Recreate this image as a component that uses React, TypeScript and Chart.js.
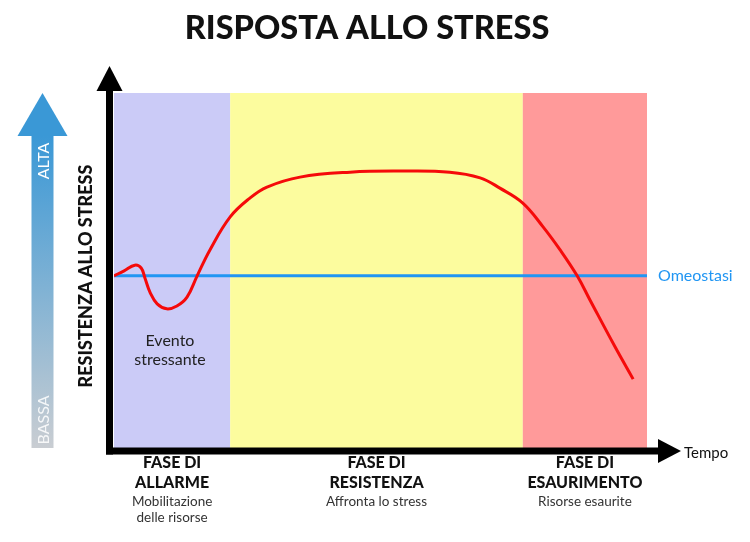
import React, { useEffect, useRef } from "react";
import { Chart, registerables } from "chart.js";
Chart.register(...registerables);

// ---- data ----
const TITLE = "RISPOSTA ALLO STRESS";
const Y_TITLE = "RESISTENZA ALLO STRESS";
const X_TITLE = "Tempo";
const HIGH_LABEL = "ALTA";
const LOW_LABEL = "BASSA";

const timeValues = [0, 1.9, 3.9, 5.1, 5.8, 6.8, 8.1, 9.9, 11.8, 13.7, 15.6, 18.0, 21.8, 25.5, 28.7, 34.9, 44.3, 53.7, 63.0, 68.7, 72.4, 76.7, 80.5, 83.7, 86.9, 89.3, 94.0, 97.4];
const resistanceValues = [48.5, 49.9, 51.5, 50.7, 47.9, 43.7, 40.6, 39.2, 40.0, 42.5, 48.5, 55.8, 65.1, 70.4, 73.5, 76.3, 77.7, 78.0, 77.7, 76.1, 73.2, 69.0, 62.3, 55.8, 48.5, 41.7, 28.5, 19.4];

const homeostasisLevel = 48.5;
const homeostasisLabel = "Omeostasi";

const phaseBounds = [0, 21.8, 76.7, 100];
const phaseColors = ["#CBCBF7", "#FCFC9E", "#FF9A9A"];
const phaseTitles = [["FASE DI", "ALLARME"], ["FASE DI", "RESISTENZA"], ["FASE DI", "ESAURIMENTO"]];
const phaseSubtitles = [["Mobilitazione", "delle risorse"], ["Affronta lo stress"], ["Risorse esaurite"]];

const eventLabel = ["Evento", "stressante"];
const eventX = 10.5;
const eventY = 27.6;

const FONT = "Lato, 'Noto Sans', sans-serif";
const BLUE = "#2196F3";
const RED = "#F50A0A";

const decorPlugin = {
  id: "decor",
  beforeDatasetsDraw(chart: any) {
    const { ctx, chartArea, scales } = chart;
    const x = scales.x;
    ctx.save();
    for (let i = 0; i < phaseColors.length; i++) {
      const x0 = x.getPixelForValue(phaseBounds[i]);
      const x1 = x.getPixelForValue(phaseBounds[i + 1]);
      ctx.fillStyle = phaseColors[i];
      ctx.fillRect(x0, chartArea.top, x1 - x0, chartArea.bottom - chartArea.top);
    }
    ctx.restore();
  },
  afterDraw(chart: any) {
    const { ctx, chartArea, scales } = chart;
    const x = scales.x;
    const y = scales.y;
    const L = chartArea.left;
    const B = chartArea.bottom;
    ctx.save();

    // title
    ctx.fillStyle = "#111";
    ctx.textAlign = "center";
    ctx.textBaseline = "middle";
    ctx.font = `900 32.5px ${FONT}`;
    ctx.fillText(TITLE, 367, 29);

    // axes
    const ax = L - 4.5;
    const ay = B + 3;
    ctx.fillStyle = "#000";
    ctx.fillRect(ax - 3.5, 88, 7, ay + 3.5 - 88);
    ctx.fillRect(ax - 3.5, ay - 3.5, 660 - (ax - 3.5), 7);
    ctx.beginPath();
    ctx.moveTo(ax, 66);
    ctx.lineTo(ax + 13, 91);
    ctx.lineTo(ax - 13, 91);
    ctx.closePath();
    ctx.fill();
    ctx.beginPath();
    ctx.moveTo(681, ay);
    ctx.lineTo(658, ay - 12);
    ctx.lineTo(658, ay + 12);
    ctx.closePath();
    ctx.fill();

    // x title
    ctx.textAlign = "left";
    ctx.font = `15px ${FONT}`;
    ctx.fillStyle = "#111";
    ctx.fillText(X_TITLE, 684, 453);

    // y title
    ctx.save();
    ctx.translate(86, 276);
    ctx.rotate(-Math.PI / 2);
    ctx.textAlign = "center";
    ctx.font = `900 18px ${FONT}`;
    ctx.fillText(Y_TITLE, 0, 0);
    ctx.restore();

    // gradient arrow
    const cx = 42.5;
    const grad = ctx.createLinearGradient(0, 136, 0, 448);
    grad.addColorStop(0, "#3A98D6");
    grad.addColorStop(1, "#C9CDD2");
    ctx.fillStyle = grad;
    ctx.fillRect(cx - 11, 135, 22, 448 - 135);
    ctx.fillStyle = "#3A98D6";
    ctx.beginPath();
    ctx.moveTo(cx, 93);
    ctx.lineTo(cx + 25, 136);
    ctx.lineTo(cx - 25, 136);
    ctx.closePath();
    ctx.fill();
    ctx.fillStyle = "#fff";
    ctx.font = `16px ${FONT}`;
    ctx.save();
    ctx.translate(cx + 1, 161);
    ctx.rotate(-Math.PI / 2);
    ctx.textAlign = "center";
    ctx.fillText(HIGH_LABEL, 0, 0);
    ctx.restore();
    ctx.save();
    ctx.fillStyle = "rgba(255,255,255,0.85)";
    ctx.translate(cx + 1, 420);
    ctx.rotate(-Math.PI / 2);
    ctx.textAlign = "center";
    ctx.fillText(LOW_LABEL, 0, 0);
    ctx.restore();

    // homeostasis label
    ctx.fillStyle = BLUE;
    ctx.textAlign = "left";
    ctx.font = `16px ${FONT}`;
    ctx.fillText(homeostasisLabel, chartArea.right + 11, y.getPixelForValue(homeostasisLevel));

    // event label
    ctx.fillStyle = "#222";
    ctx.textAlign = "center";
    ctx.font = `16px ${FONT}`;
    const ex = x.getPixelForValue(eventX);
    const ey = y.getPixelForValue(eventY);
    ctx.fillText(eventLabel[0], ex, ey - 9);
    ctx.fillText(eventLabel[1], ex, ey + 10);

    // phase labels
    for (let i = 0; i < phaseTitles.length; i++) {
      const c = (x.getPixelForValue(phaseBounds[i]) + x.getPixelForValue(phaseBounds[i + 1])) / 2;
      ctx.fillStyle = "#111";
      ctx.font = `900 16px ${FONT}`;
      ctx.fillText(phaseTitles[i][0], c, 463);
      ctx.fillText(phaseTitles[i][1], c, 483);
      ctx.fillStyle = "#333";
      ctx.font = `13.5px ${FONT}`;
      phaseSubtitles[i].forEach((s, k) => ctx.fillText(s, c, 502 + k * 16));
    }
    ctx.restore();
  },
};

export default function App() {
  const ref = useRef<HTMLCanvasElement>(null);
  useEffect(() => {
    if (!ref.current) return;
    const chart = new Chart(ref.current, {
      type: "line",
      data: {
        datasets: [
          {
            label: "Resistenza",
            data: timeValues.map((t, i) => ({ x: t, y: resistanceValues[i] })),
            borderColor: RED,
            borderWidth: 3,
            pointRadius: 0,
            tension: 0.4,
            order: 0,
          },
          {
            label: homeostasisLabel,
            data: [
              { x: phaseBounds[0], y: homeostasisLevel },
              { x: phaseBounds[phaseBounds.length - 1], y: homeostasisLevel },
            ],
            borderColor: BLUE,
            borderWidth: 3,
            pointRadius: 0,
            order: 1,
          },
        ],
      },
      options: {
        responsive: false,
        animation: false,
        layout: { padding: { left: 114, top: 93, right: 103, bottom: 94 } },
        scales: {
          x: { type: "linear", min: 0, max: 100, display: false },
          y: { type: "linear", min: 0, max: 100, display: false },
        },
        plugins: { legend: { display: false }, tooltip: { enabled: false }, title: { display: false } },
      },
      plugins: [decorPlugin],
    } as any);
    return () => chart.destroy();
  }, []);
  return (
    <div style={{ position: "absolute", left: 0, top: 0 }}>
      <canvas ref={ref} width={750} height={542} style={{ display: "block" }} />
    </div>
  );
}
